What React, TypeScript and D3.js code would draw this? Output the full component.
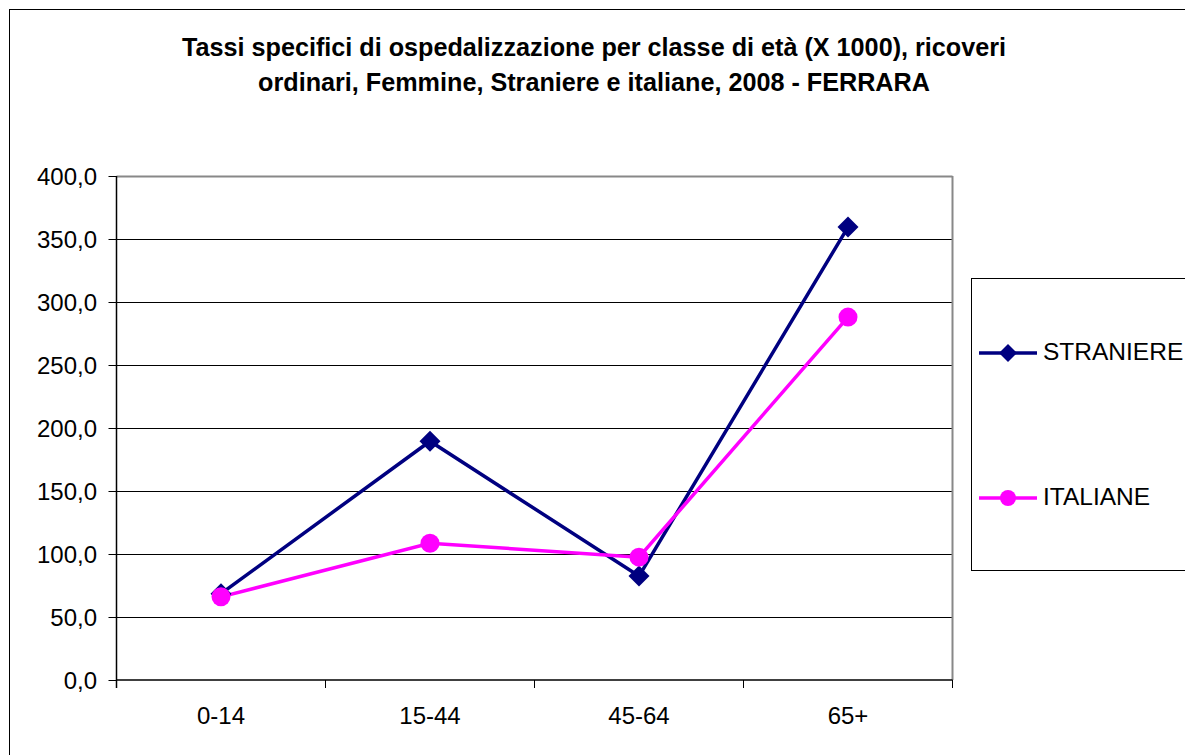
import React from "react";
import * as d3 from "d3";

const categories = ["0-14", "15-44", "45-64", "65+"];
const straniere = [68.5, 189.5, 82.5, 359.5];
const italiane = [66.0, 108.5, 97.5, 288.0];
const yTicks = [0, 50, 100, 150, 200, 250, 300, 350, 400];
const titleLines = [
  "Tassi specifici di ospedalizzazione per classe di età (X 1000), ricoveri",
  "ordinari, Femmine, Straniere e italiane, 2008 - FERRARA",
];
const seriesNames = ["STRANIERE", "ITALIANE"];
const seriesColors = ["#000080", "#FF00FF"];

const W = 1185;
const H = 755;
const plot = { left: 116.5, right: 952.5, top: 176, bottom: 680 };
const FONT = "'Liberation Sans', Arial, sans-serif";

export default function App() {
  const x = d3.scaleBand().domain(categories).range([plot.left, plot.right]);
  const y = d3.scaleLinear().domain([0, 400]).range([plot.bottom, plot.top]);
  const line = d3
    .line<number>()
    .x((_, i) => (x(categories[i]) as number) + x.bandwidth() / 2)
    .y((d) => y(d));
  const fmt = (v: number) => v.toFixed(1).replace(".", ",");
  const boundaries = categories.map((c) => x(c) as number).concat([plot.right]);

  const diamond = (cx: number, cy: number, s: number) =>
    `M${cx},${cy - s}L${cx + s},${cy}L${cx},${cy + s}L${cx - s},${cy}Z`;

  const legendY = [353, 498];

  return (
    <svg width={W} height={H} style={{ position: "absolute", left: 0, top: 0, display: "block" }}>
      <rect x={0} y={0} width={W} height={H} fill="#fff" />
      <rect x={9.5} y={9.5} width={W + 20} height={H + 20} fill="none" stroke="#000" strokeWidth={1} />
      {titleLines.map((t, i) => (
        <text
          key={i}
          x={594}
          y={56 + i * 35}
          textAnchor="middle"
          fontFamily={FONT}
          fontWeight="bold"
          fontSize={25.2}
          fill="#000"
        >
          {t}
        </text>
      ))}
      {/* gridlines */}
      {yTicks.slice(1, -1).map((t) => (
        <line
          key={t}
          x1={plot.left}
          x2={plot.right}
          y1={Math.round(y(t)) + 0.5}
          y2={Math.round(y(t)) + 0.5}
          stroke="#000"
          strokeWidth={1}
        />
      ))}
      {/* plot border */}
      <line x1={plot.left} x2={plot.right} y1={plot.top + 0.5} y2={plot.top + 0.5} stroke="#888" strokeWidth={2} />
      <line x1={plot.right} x2={plot.right} y1={plot.top} y2={plot.bottom} stroke="#888" strokeWidth={2} />
      {/* y axis */}
      <line x1={plot.left} x2={plot.left} y1={plot.top} y2={plot.bottom + 8} stroke="#000" strokeWidth={1.5} />
      {yTicks.map((t) => (
        <g key={t}>
          <line x1={plot.left - 8} x2={plot.left} y1={Math.round(y(t)) + 0.5} y2={Math.round(y(t)) + 0.5} stroke="#000" />
          <text
            x={97}
            y={y(t) + 9}
            textAnchor="end"
            fontFamily={FONT}
            fontSize={24}
            fill="#000"
          >
            {fmt(t)}
          </text>
        </g>
      ))}
      {/* x axis */}
      <line x1={plot.left} x2={plot.right} y1={plot.bottom} y2={plot.bottom} stroke="#000" strokeWidth={1.5} />
      {boundaries.map((b, i) => (
        <line key={i} x1={b} x2={b} y1={plot.bottom} y2={plot.bottom + 8} stroke="#000" />
      ))}
      {categories.map((c) => (
        <text
          key={c}
          x={(x(c) as number) + x.bandwidth() / 2}
          y={724}
          textAnchor="middle"
          fontFamily={FONT}
          fontSize={24}
          fill="#000"
        >
          {c}
        </text>
      ))}
      {/* series */}
      <path d={line(straniere) as string} fill="none" stroke={seriesColors[0]} strokeWidth={3.5} />
      <path d={line(italiane) as string} fill="none" stroke={seriesColors[1]} strokeWidth={3.5} />
      {straniere.map((v, i) => (
        <path
          key={"s" + i}
          d={diamond((x(categories[i]) as number) + x.bandwidth() / 2, y(v), 10.5)}
          fill={seriesColors[0]}
        />
      ))}
      {italiane.map((v, i) => (
        <circle
          key={"i" + i}
          cx={(x(categories[i]) as number) + x.bandwidth() / 2}
          cy={y(v)}
          r={9.5}
          fill={seriesColors[1]}
        />
      ))}
      {/* legend */}
      <rect x={971.5} y={278.5} width={260} height={292} fill="#fff" stroke="#000" strokeWidth={1} />
      {seriesNames.map((n, i) => (
        <g key={n}>
          <line x1={979} x2={1037} y1={legendY[i]} y2={legendY[i]} stroke={seriesColors[i]} strokeWidth={3.5} />
          {i === 0 ? (
            <path d={diamond(1008, legendY[i], 9)} fill={seriesColors[i]} />
          ) : (
            <circle cx={1008} cy={legendY[i]} r={8} fill={seriesColors[i]} />
          )}
          <text x={1043} y={legendY[i] + 6.5} fontFamily={FONT} fontSize={24.5} fill="#000">
            {n}
          </text>
        </g>
      ))}
    </svg>
  );
}
